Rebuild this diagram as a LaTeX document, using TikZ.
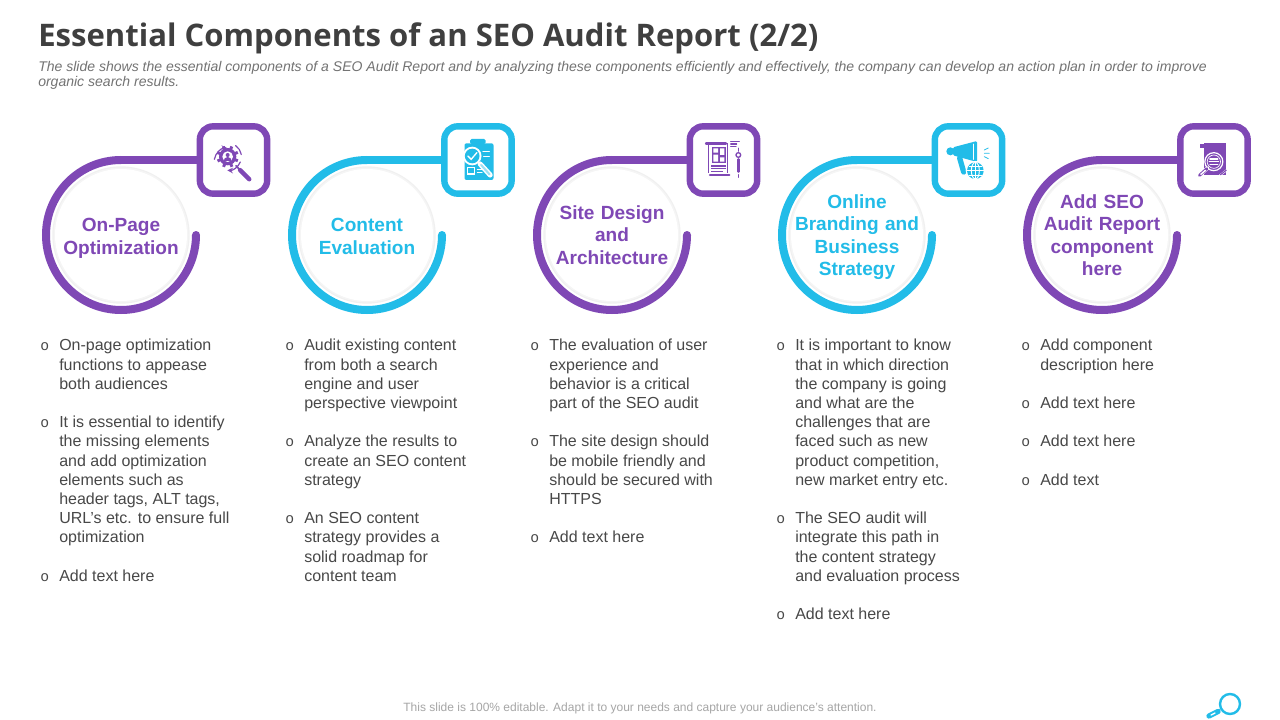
\documentclass[tikz,border=0pt]{standalone}
\usepackage{fontspec}
\setmainfont{Liberation Sans}
\newfontfamily\titlefont{Open Sans}
\newfontfamily\monofont{Liberation Mono}
\usetikzlibrary{calc}
\definecolor{pur}{HTML}{7F48B5}
\definecolor{cya}{HTML}{22BCE8}
\definecolor{bodyc}{HTML}{484848}
\definecolor{titlec}{HTML}{3F3F3F}
\newcommand{\bl}{\llap{\monofont\fontsize{11}{14.4}\selectfont o\hspace{7.5pt}}}
\tikzset{x=0.75pt,y=-0.75pt,
 ringline/.style={line width=6pt,line cap=round},
 iconbox/.style={draw,line width=4.8pt,rounded corners=10pt,fill=white,minimum size=50.5pt,inner sep=0pt},
 disc/.style={circle,fill=black!6,draw=none,minimum size=103pt,inner sep=0pt},
 lab/.style={font=\bfseries\fontsize{14.3}{16.9}\selectfont,align=center,text width=100pt},
 col/.style={anchor=north west,align=left,inner sep=0pt,text=bodyc,font=\fontsize{12}{14.4}\selectfont},
 iconat/.style={shift={($(#1.center)+(-28.5,-30)$)},x=0.25pt,y=-0.25pt,line cap=round},
}
\begin{document}
\begin{tikzpicture}
\useasboundingbox (0,0) rectangle (1280,720);
\fill[white] (0,0) rectangle (1280,720);
\node[anchor=base west,inner sep=0pt,text=titlec,font=\titlefont\bfseries\fontsize{23.3}{28}\selectfont] (title) at (38,47) {Essential Components of an SEO Audit Report (2/2)};
\node[anchor=north west,inner sep=0pt,align=left,text=black!55,font=\itshape\fontsize{10.52}{11.6}\selectfont] (sub) at (38,61) {The slide shows the essential components of a SEO Audit Report and by analyzing these components efficiently and effectively, the company can develop an action plan in order to improve\\organic search results.};
\foreach \n/\cx/\bx/\c/\ly/\txt in {
 a/121/233.5/pur/238.5/{On-Page\\Optimization},
 b/367/478/cya/236.5/{Content\\Evaluation},
 c/612/723.5/pur/235/{Site Design\\and\\Architecture},
 d/857/968.5/cya/237/{Online\\Branding and\\Business\\Strategy},
 e/1102/1214/pur/235/{Add SEO\\Audit Report\\component\\here}}{
  \node[disc] (disc\n) at (\cx,235) {};
  \fill[black!4] (disc\n.center) circle[radius=67.5];
  \fill[white] (disc\n.center) circle[radius=66];
  \node[iconbox,draw=\c] (box\n) at (\bx,160) {};
  \coordinate (s\n) at ($(disc\n.center)+(75,0)$);
  \draw[ringline,draw=\c] (s\n) arc[start angle=0,end angle=270,radius=75];
  \draw[line width=6pt,draw=\c] ($(disc\n.center)+(0,-75)$) -- (box\n.west);
  \node[lab,text=\c] (lab\n) at (\cx,\ly) {\txt};
}
% icon 1: gear and magnifier
\begin{scope}[iconat=boxa,pur]
  \foreach \a in {0,45,...,315} \draw[line width=2.2pt,line cap=butt] (68,80) ++(\a+22:22) -- ++(\a+22:11);
  \fill (68,80) circle[radius=26];
  \fill[white] (68,80) circle[radius=16];
  \fill (68,75) circle[radius=6];
  \fill (56,93) arc[start angle=180,end angle=360,radius=12] -- cycle;
  \draw[line width=0.9pt,-stealth] (28,88) arc[start angle=190,end angle=268,radius=41];
  \draw[line width=0.9pt] (92,47) arc[start angle=305,end angle=350,radius=41];
  \draw[line width=0.9pt,-stealth] (106,96) arc[start angle=23,end angle=92,radius=41];
  \draw[line width=1.2pt] (93,107) -- (103,118);
  \draw[line width=3.2pt] (105,120) -- (133,148);
\end{scope}
% icon 2: clipboard and magnifier
\begin{scope}[iconat=boxb,cya]
  \fill[rounded corners=1.5pt] (45,40) rectangle (132,150);
  \fill[rounded corners=1pt] (62,27) rectangle (108,42);
  \fill[white] (68,78) circle[radius=28];
  \fill (68,78) circle[radius=22];
  \draw[white,line width=1pt] (55,78) -- (65,88) -- (82,68);
  \draw[white,line width=0.7pt] (100,64) -- (120,64) (102,78) -- (120,78);
  \draw[white,line width=3.8pt] (92,102) -- (122,135);
  \draw[cya!45,line width=1.6pt] (95,105) -- (120,133);
  \draw[white,line width=0.8pt,line cap=butt] (55,112) rectangle (75,132);
  \draw[white,line width=0.8pt] (84,118) -- (100,118) (84,127) -- (98,127);
\end{scope}
% icon 3: blueprint
\begin{scope}[iconat=boxc,xshift=0.75pt,pur]
  \draw[line width=1.8pt] (30,40) -- (90,40);
  \draw[line width=1.1pt,line cap=butt] (38,42) -- (38,130) (95,40) -- (95,130);
  \fill (47,50) rectangle (90,100);
  \fill[white] (52,55) rectangle (66,68) (72,55) rectangle (85,75) (52,74) rectangle (66,95) (72,82) rectangle (85,95);
  \draw[line width=0.8pt,line cap=butt] (46,108) -- (90,108) (46,116) -- (90,116) (46,124) -- (80,124);
  \draw[line width=1.7pt] (42,136) -- (100,136);
  \draw[line width=0.8pt] (104,35) -- (130,35) (104,42) -- (122,42) (104,50) -- (120,50);
  \draw[line width=1.2pt] (127,55) -- (127,63);
  \draw[line width=1pt] (127,75) circle[radius=7];
  \draw[line width=1.8pt] (127,88) -- (127,125);
  \draw[line width=1pt] (127,134) -- (127,142);
\end{scope}
% icon 4: megaphone and globe
\begin{scope}[iconat=boxd,xshift=0.75pt,cya]
  \fill (28,64) circle[radius=12];
  \fill[rounded corners=1pt] (36,52) -- (108,33) -- (108,96) -- (36,76) -- cycle;
  \draw[white,line width=0.7pt] (98,42) -- (98,88);
  \draw[line width=4pt,line cap=round] (56,84) -- (68,126);
  \fill[white] (103,122) circle[radius=29];
  \fill (103,122) circle[radius=25];
  \draw[white,line width=0.7pt,line cap=butt] (103,97) -- (103,147) (78,122) -- (128,122) (83,108) -- (123,108) (83,136) -- (123,136);
  \draw[white,line width=0.7pt] (103,122) ellipse[x radius=12,y radius=25];
  \draw[line width=0.6pt] (130,60) -- (142,54) (130,70) -- (145,70) (130,80) -- (142,86);
\end{scope}
% icon 5: paper and magnifier
\begin{scope}[iconat=boxe,pur]
  \fill (55,40) -- (122,40) -- (122,135) -- (55,135) -- cycle;
  \fill (43,42) rectangle (55,55);
  \draw[white,line width=0.9pt] (85,95) circle[radius=27];
  \draw[white,line width=0.5pt] (85,95) circle[radius=20];
  \draw[white,line width=0.8pt] (73,87) -- (97,87) (71,95) -- (99,95) (73,103) -- (97,103);
  \draw[white,line width=2.8pt] (66,114) -- (42,136);
  \draw[pur,line width=2.2pt] (64,116) -- (42,136);
  \draw[white,line width=1.1pt] (60,121) -- (46,133);
  \draw[white,line width=1.4pt] (103,136) -- (124,120);
  \draw[pur,line width=0.8pt] (105,134) -- (122,121);
\end{scope}
% body text
\node[col] (c1) at (59,339) {\bl On-page optimization\\functions to appease\\both audiences\\~\\\bl It is essential to identify\\the missing elements\\and add optimization\\elements such as\\header tags, ALT tags,\\URL’s etc. to ensure full\\optimization\\~\\\bl Add text here};
\node[col] (c2) at (304,339) {\bl Audit existing content\\from both a search\\engine and user\\perspective viewpoint\\~\\\bl Analyze the results to\\create an SEO content\\strategy\\~\\\bl An SEO content\\strategy provides a\\solid roadmap for\\content team};
\node[col] (c3) at (549,339) {\bl The evaluation of user\\experience and\\behavior is a critical\\part of the SEO audit\\~\\\bl The site design should\\be mobile friendly and\\should be secured with\\HTTPS\\~\\\bl Add text here};
\node[col] (c4) at (795,339) {\bl It is important to know\\that in which direction\\the company is going\\and what are the\\challenges that are\\faced such as new\\product competition,\\new market entry etc.\\~\\\bl The SEO audit will\\integrate this path in\\the content strategy\\and evaluation process\\~\\\bl Add text here};
\node[col] (c5) at (1040,339) {\bl Add component\\description here\\~\\\bl Add text here\\~\\\bl Add text here\\~\\\bl Add text};
\node[inner sep=0pt,text=black!35,font=\fontsize{9}{11}\selectfont] (foot) at (640,708) {This slide is 100\% editable. Adapt it to your needs and capture your audience’s attention.};
% corner magnifier
\node[circle,draw=cya,line width=1.8pt,minimum size=15pt,inner sep=0pt] (glass) at (1230,704) {};
\coordinate (grip) at (1209,716);
\draw[cya,line width=1pt] (glass) -- (grip);
\draw[cya,line width=4pt,line cap=round] (1218,711.5) -- (grip);
\draw[white,line width=1pt,line cap=round] (1215,713) -- (1211,715);
\end{tikzpicture}
\end{document}
